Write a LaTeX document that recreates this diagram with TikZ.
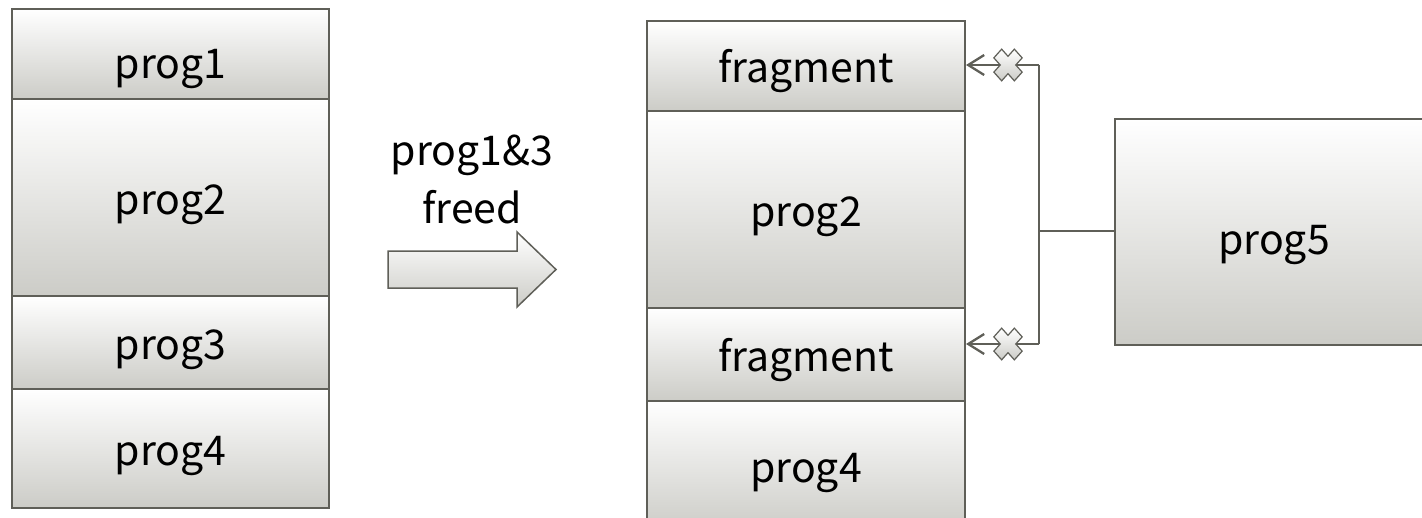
\documentclass[tikz,border=0pt]{standalone}
\usepackage{fontspec}
\setmainfont{Noto Sans CJK JP}
\usetikzlibrary{arrows.meta,calc}
\definecolor{edge}{RGB}{95,95,88}
\definecolor{shadelow}{RGB}{204,204,199}
\tikzset{
  x=1pt, y=-1pt,
  txt/.style={font=\fontsize{41pt}{49pt}\selectfont, text=black},
  mem/.style={txt, draw=edge, line width=2pt, top color=white, bottom color=shadelow,
              rectangle, inner sep=0pt, anchor=north west, text height=33pt, text depth=0pt},
  link/.style={draw=edge, line width=2.8pt},
  ptr/.style={link, -{Straight Barb[length=16pt,width=20pt,line width=2.3pt]}},
  xmark/.pic={
    \path[draw=edge, line width=1.2pt, top color=white, bottom color=shadelow, yscale=1.12, rotate=45]
      (5.5,14.5) -- (5.5,5.5) -- (14.5,5.5) -- (14.5,-5.5) -- (5.5,-5.5) -- (5.5,-14.5)
      -- (-5.5,-14.5) -- (-5.5,-5.5) -- (-14.5,-5.5) -- (-14.5,5.5) -- (-5.5,5.5) -- (-5.5,14.5) -- cycle;
  }
}
\begin{document}
\begin{tikzpicture}
\useasboundingbox (0,0) rectangle (1422,517);
\fill[white] (0,0) rectangle (1422,517);
\clip (0,0) rectangle (1422,517);

% memory before freeing
\node[mem, minimum width=317, minimum height=90, text height=48pt] (l1) at (11,8) {prog1};
\node[mem, minimum width=317, minimum height=197] (l2) at (11,98)  {prog2};
\node[mem, minimum width=317, minimum height=93]  (l3) at (11,295) {prog3};
\node[mem, minimum width=317, minimum height=119] (l4) at (11,388) {prog4};

% transition arrow
\path[draw=edge, line width=1.5pt, top color=white, bottom color=shadelow]
  (388,251) -- (517,251) -- (517,232) -- (556,269.5) -- (517,307) -- (517,288) -- (388,288) -- cycle;
\node[txt, anchor=base] (cap1) at (472,165) {prog1\&3};
\node[txt, anchor=base] (cap2) at (472,223) {freed};

% memory after freeing
\node[mem, minimum width=318, minimum height=90]  (r1) at (646,20)  {fragment};
\node[mem, minimum width=318, minimum height=197] (r2) at (646,110) {prog2};
\node[mem, minimum width=318, minimum height=93]  (r3) at (646,307) {fragment};
\node[mem, minimum width=318, minimum height=130] (r4) at (646,400) {prog4};

% new program
\node[mem, minimum width=318, minimum height=226, text height=44pt] (p5) at (1114,118) {prog5};

% prog5 fits in neither fragment
\coordinate (j)  at (1039,231);
\coordinate (j1) at (1039,65);
\coordinate (j2) at (1039,344);
\draw[link] (p5.west |- j) -- (j);
\draw[link] (j1) -- (j2);
\draw[ptr] (j1) -- (r1.east |- j1);
\draw[ptr] (j2) -- (r3.east |- j2);
\pic at (1008,65) {xmark};
\pic at (1008,344) {xmark};
\end{tikzpicture}
\end{document}
